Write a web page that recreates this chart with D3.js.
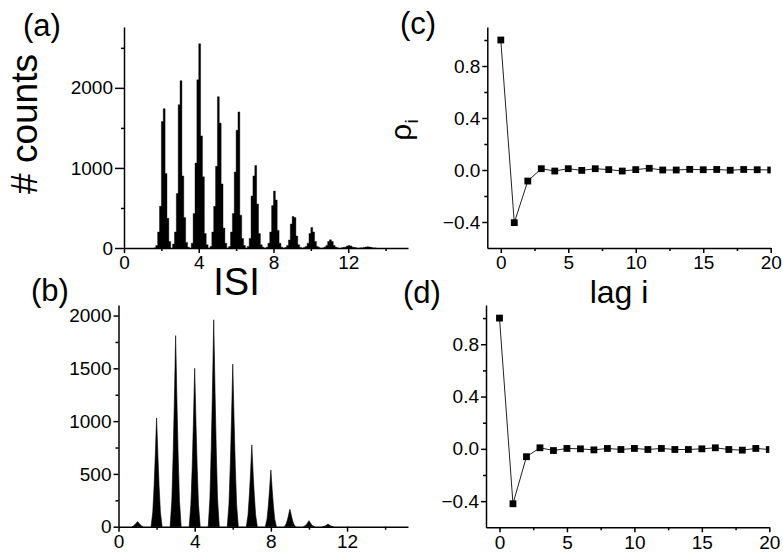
<!DOCTYPE html>
<html>
<head>
<meta charset="utf-8">
<title>ISI histograms and serial correlations</title>
<script src="https://cdn.jsdelivr.net/npm/d3@7"></script>
<style>
  body { margin: 0; background: #fff; }
  svg { font-family: "Liberation Sans", Arial, sans-serif; }
  .axis path, .axis line { stroke: #000; stroke-width: 1.5; }
  .axis text { font-size: 19px; fill: #000; }
</style>
</head>
<body>
<svg width="783" height="558"></svg>
<script>
// ---- data ----
// (a) fine ISI histogram, 0.1 wide bins, 9 bins per peak starting at k - 0.4
const binWidth = 0.1;
const peaksA = [2, 3, 4, 5, 6, 7, 8, 9, 10, 11, 12, 13];
const countsA = [
  [0, 30, 200, 520, 1580, 1740, 930, 370, 80],
  [50, 200, 680, 1790, 2090, 900, 380, 70, 10],
  [60, 430, 1060, 2100, 2550, 1400, 890, 180, 40],
  [20, 200, 520, 1020, 1890, 1560, 800, 250, 60],
  [20, 200, 430, 950, 1470, 1700, 410, 120, 30],
  [20, 120, 650, 900, 1030, 550, 180, 40, 10],
  [10, 60, 200, 530, 711, 600, 220, 60, 10],
  [5, 30, 100, 300, 393, 380, 150, 40, 5],
  [5, 20, 60, 180, 256, 200, 80, 20, 5],
  [0, 10, 30, 80, 103, 80, 30, 10, 0],
  [0, 5, 10, 25, 30, 25, 10, 5, 0],
  [0, 0, 5, 12, 15, 12, 5, 0, 0]
];

// (b) smoother histogram, peak profiles sampled at these offsets from each integer
const peaksB = [1, 2, 3, 4, 5, 6, 7, 8, 9, 10, 11];
const offsetsB = [-0.29, -0.2, -0.13, -0.07, -0.03, 0, 0.03, 0.07, 0.13, 0.2, 0.29];
const countsB = [
  [0, 10, 22, 34, 43, 47, 43, 34, 22, 10, 0],
  [0, 140, 390, 670, 880, 1030, 880, 670, 390, 140, 0],
  [0, 250, 690, 1180, 1540, 1810, 1540, 1180, 690, 250, 0],
  [0, 210, 570, 970, 1280, 1500, 1280, 970, 570, 210, 0],
  [0, 270, 750, 1270, 1670, 1960, 1670, 1270, 750, 270, 0],
  [0, 215, 590, 1000, 1310, 1540, 1310, 1000, 590, 215, 0],
  [0, 110, 300, 500, 660, 775, 660, 500, 300, 110, 0],
  [0, 75, 205, 350, 460, 538, 460, 350, 205, 75, 0],
  [0, 25, 65, 110, 145, 165, 145, 110, 65, 25, 0],
  [0, 10, 22, 38, 50, 57, 50, 38, 22, 10, 0],
  [0, 4, 9, 16, 22, 25, 22, 16, 9, 4, 0]
];

// (c), (d) serial correlation coefficients vs lag
const lags = d3.range(0, 21);
const rhoC = [1.0, -0.405, -0.085, 0.01, -0.008, 0.01, -0.003, 0.01, 0.003, -0.008, 0.003,
              0.013, 0.0, 0.0, 0.005, 0.002, 0.004, -0.002, 0.004, 0.002, 0.0];
const rhoD = [1.0, -0.42, -0.06, 0.008, -0.013, 0.003, 0.0, -0.008, 0.003, -0.005, 0.003,
              -0.005, 0.003, -0.005, -0.005, 0.0, 0.008, -0.005, -0.01, 0.003, -0.005];

// tick values
const isiMajor = [0, 4, 8, 12], isiMinor = [2, 6, 10, 14];
const countMajorA = [0, 1000, 2000], countMinorA = [500, 1500, 2500];
const countMajorB = [0, 500, 1000, 1500, 2000], countMinorB = [250, 750, 1250, 1750];
const lagMajor = [0, 5, 10, 15, 20], lagMinor = [2.5, 7.5, 12.5, 17.5];
const rhoMajor = [-0.4, 0, 0.4, 0.8], rhoMinor = [-0.2, 0.2, 0.6, 1.0];

const svg = d3.select('svg');

// draws left + bottom axes with major / minor ticks
function drawAxes(x, y, xMaj, xMin, yMaj, yMin, yFmt, yTick) {
  const x0 = x.range()[0], y0 = y.range()[0];
  svg.append('g').attr('class', 'axis')
    .attr('transform', `translate(0,${y0})`)
    .call(d3.axisBottom(x).tickValues(xMaj).tickSize(5).tickSizeOuter(0).tickPadding(3));
  svg.append('g').attr('class', 'axis')
    .attr('transform', `translate(0,${y0})`)
    .call(d3.axisBottom(x).tickValues(xMin).tickSize(3).tickFormat(''))
    .select('.domain').remove();
  svg.append('g').attr('class', 'axis')
    .attr('transform', `translate(${x0},0)`)
    .call(d3.axisLeft(y).tickValues(yMaj).tickSize(yTick).tickSizeOuter(0).tickPadding(2).tickFormat(yFmt));
  svg.append('g').attr('class', 'axis')
    .attr('transform', `translate(${x0},0)`)
    .call(d3.axisLeft(y).tickValues(yMin).tickSize(3).tickFormat(''))
    .select('.domain').remove();
}

// ---- panel (a): each peak as a stepped area so the bins merge into solid black ----
const xA = d3.scaleLinear().domain([0, 15.2]).range([124, 408]);
const yA = d3.scaleLinear().domain([0, 2760]).range([248, 27]);
const stepA = d3.area().curve(d3.curveStepAfter)
  .x(d => xA(d[0])).y0(yA(0)).y1(d => yA(d[1]));
svg.append('g').selectAll('path')
  .data(peaksA.map((k, i) => {
    const pts = countsA[i].map((c, j) => [k - 0.4 + j * binWidth, c]);
    pts.push([k - 0.4 + countsA[i].length * binWidth, 0]);
    return pts;
  }))
  .enter().append('path')
  .attr('d', stepA).attr('fill', '#000').attr('stroke', '#000').attr('stroke-width', 0.4);
drawAxes(xA, yA, isiMajor, isiMinor, countMajorA, countMinorA, d3.format('d'), 9);

// ---- panel (b) ----
const xB = d3.scaleLinear().domain([0, 15.2]).range([118.5, 408]);
const yB = d3.scaleLinear().domain([0, 2100]).range([526.7, 305]);
const areaB = d3.area().x(d => xB(d[0])).y0(yB(0)).y1(d => yB(d[1]));
svg.append('g').selectAll('path').data(peaksB.map((k, i) => offsetsB.map((o, j) => [k + o, countsB[i][j]])))
  .enter().append('path')
  .attr('d', areaB).attr('fill', '#000').attr('stroke', '#000').attr('stroke-width', 0.6);
drawAxes(xB, yB, isiMajor, isiMinor, countMajorB, countMinorB, d3.format('d'), 5);

// ---- panels (c) and (d) ----
function corrPanel(id, vals, top, bottom, left, right) {
  const x = d3.scaleLinear().domain([-1, 20]).range([left, right]);
  const y = d3.scaleLinear().domain([-0.6, 1.1]).range([bottom, top]);
  svg.append('clipPath').attr('id', id)
    .append('rect').attr('x', left).attr('y', top - 5).attr('width', right - left).attr('height', bottom - top + 5);
  const g = svg.append('g').attr('clip-path', `url(#${id})`);
  const pts = lags.map((l, i) => [l, vals[i]]);
  g.append('path')
    .attr('d', d3.line().x(d => x(d[0])).y(d => y(d[1]))(pts))
    .attr('fill', 'none').attr('stroke', '#222').attr('stroke-width', 1);
  g.selectAll('rect').data(pts).enter().append('rect')
    .attr('x', d => x(d[0]) - 3.4).attr('y', d => y(d[1]) - 3.4)
    .attr('width', 6.8).attr('height', 6.8).attr('fill', '#000');
  drawAxes(x, y, lagMajor, lagMinor, rhoMajor, rhoMinor, d3.format('.1f'), 5);
}
corrPanel('clipC', rhoC, 27, 248, 487.3, 770.7);
corrPanel('clipD', rhoD, 305, 527.3, 486, 769.3);

// ---- labels ----
const big = (x, y, txt, size) => svg.append('text').attr('x', x).attr('y', y)
  .attr('font-size', size).attr('text-anchor', 'middle').text(txt);
big(42, 36, '(a)', 31);
big(50, 301, '(b)', 31);
big(418, 34, '(c)', 31);
big(422, 303, '(d)', 31);
big(236.5, 295, 'ISI', 38);
big(619, 303, 'lag i', 32);
svg.append('text').attr('transform', 'translate(37,124) rotate(-90)')
  .attr('font-size', 37).attr('text-anchor', 'middle').text('# counts');
const rho = svg.append('text').attr('transform', 'translate(411,130) rotate(-90)')
  .attr('font-size', 30).attr('text-anchor', 'middle');
rho.append('tspan').text('ρ');
rho.append('tspan').attr('font-size', 19).attr('dy', 7).text('i');
</script>
</body>
</html>
